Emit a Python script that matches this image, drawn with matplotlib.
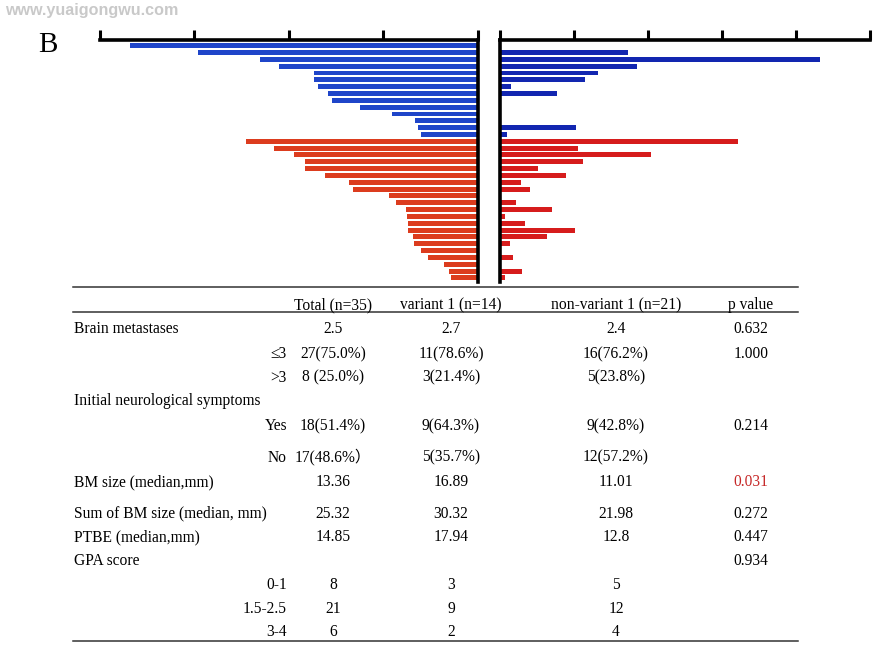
"""Panel B: mirrored bar chart per patient with the summary table below."""

import matplotlib

matplotlib.use("Agg")

import matplotlib.pyplot as plt
import numpy as np

W, H = 884, 659

# per-patient values, left panel (bars drawn leftwards) and right panel
left_variant = [36.8, 29.6, 23.1, 21.1, 17.4, 17.4, 16.9, 15.9, 15.4, 12.5, 9.1, 6.7, 6.3, 6.0]
left_nonvariant = [24.6, 21.6, 19.5, 18.3, 18.3, 16.2, 13.7, 13.2, 9.4, 8.7, 7.6,
                   7.5, 7.4, 7.4, 6.9, 6.8, 6.0, 5.3, 3.6, 3.1, 2.9]
right_variant = [0, 17.3, 43.2, 18.5, 13.2, 11.5, 1.5, 7.7, 0.1, 0, 0, 0, 10.3, 1.0]
right_nonvariant = [32.2, 10.6, 20.4, 11.2, 5.2, 8.9, 2.9, 4.0, 0, 2.2, 7.0,
                    0.7, 3.4, 10.2, 6.3, 1.4, 0, 1.8, 0, 3.0, 0.7]
left_ticks = [0, 10, 20, 30, 40]
right_ticks = [0, 10, 20, 30, 40, 50]

# table content
header = ["Total (n=35)", "variant 1 (n=14)", "non-variant 1 (n=21)", "p value"]
row_labels = ["Brain metastases", "", "", "Initial neurological symptoms", "", "",
              "BM size (median,mm)", "Sum of BM size (median, mm)", "PTBE (median,mm)",
              "GPA score", "", "", ""]
row_sublabels = ["", "\u22643", ">3", "", "Yes", "No", "", "", "", "", "0-1", "1.5-2.5", "3-4"]
col_total = ["2.5", "27(75.0%)", "8 (25.0%)", "", "18(51.4%)", "17(48.6%\uff09",
             "13.36", "25.32", "14.85", "", "8", "21", "6"]
col_variant = ["2.7", "11(78.6%)", "3(21.4%)", "", "9(64.3%)", "5(35.7%)",
               "16.89", "30.32", "17.94", "", "3", "9", "2"]
col_nonvariant = ["2.4", "16(76.2%)", "5(23.8%)", "", "9(42.8%)", "12(57.2%)",
                  "11.01", "21.98", "12.8", "", "5", "12", "4"]
col_p = ["0.632", "1.000", "", "", "0.214", "", "0.031", "0.272", "0.447", "0.934", "", "", ""]
row_baselines = [333, 358, 381.5, 405, 430, 461.5, 486, 517.5, 541, 565, 589, 613, 636.5]


def fx(px):
    return px / W


def fy(py):
    return 1 - py / H


def style_panel(ax, spine_side, ticks, lim):
    for side in ("left", "right", "bottom", "top"):
        ax.spines[side].set_visible(side in ("top", spine_side))
        ax.spines[side].set_linewidth(2.6)
    ax.set_xticks(ticks)
    ax.set_xlim(*lim)
    ax.set_ylim(34.6, -0.83)
    ax.set_yticks([])
    ax.xaxis.tick_top()
    ax.tick_params(axis="x", direction="out", length=7, width=2.2, labeltop=False, labelbottom=False)


fig = plt.figure(figsize=(W / 100, H / 100), dpi=100)
fig.patch.set_facecolor("white")

n_var = len(left_variant)
rows_var = np.arange(n_var)
rows_non = np.arange(n_var, n_var + len(left_nonvariant))

ax_l = fig.add_axes([fx(100), fy(282), fx(478 - 100), (282 - 40) / H])
ax_l.barh(rows_var, left_variant, height=0.72, color="#1f45c9")
ax_l.barh(rows_non, left_nonvariant, height=0.72, color="#dc3c1e")
style_panel(ax_l, "right", left_ticks, (40, 0))

ax_r = fig.add_axes([fx(500), fy(282), fx(870 - 500), (282 - 40) / H])
ax_r.barh(rows_var, right_variant, height=0.72, color="#1226b0")
ax_r.barh(rows_non, right_nonvariant, height=0.72, color="#d61c1c")
style_panel(ax_r, "left", right_ticks, (0, 50))

# panel letter and watermark
fig.text(fx(38), fy(51.5), "B", fontsize=21, family="Liberation Serif", va="baseline")
fig.text(fx(5), fy(11), "www.yuaigongwu.com", fontsize=11.6, family="Liberation Sans",
         weight="bold", color="#c9c9c9", va="center")

# table rules
for y in (287, 311.7, 640.7):
    fig.add_artist(plt.Line2D([fx(73), fx(798)], [fy(y), fy(y)], color="#333333", lw=1.1))

serif = ["Liberation Serif", "DejaVu Serif", "Noto Sans CJK SC"]
fs = 11.2
col_x = [333, 451, 616, 751]
for x, label in zip(col_x, header):
    fig.text(fx(x), fy(309), label, fontsize=fs, family=serif, ha="center", va="baseline")

for i, yb in enumerate(row_baselines):
    if row_labels[i]:
        fig.text(fx(74), fy(yb), row_labels[i], fontsize=fs, family=serif, va="baseline")
    if row_sublabels[i]:
        fig.text(fx(287), fy(yb), row_sublabels[i], fontsize=fs, family=serif,
                 ha="right", va="baseline")
    for x, col in zip(col_x, (col_total, col_variant, col_nonvariant, col_p)):
        if col[i]:
            color = "#c62828" if col is col_p and col[i] == "0.031" else "black"
            fig.text(fx(x), fy(yb), col[i], fontsize=fs, family=serif, ha="center",
                     va="baseline", color=color)

fig.savefig("out.png", dpi=100)
